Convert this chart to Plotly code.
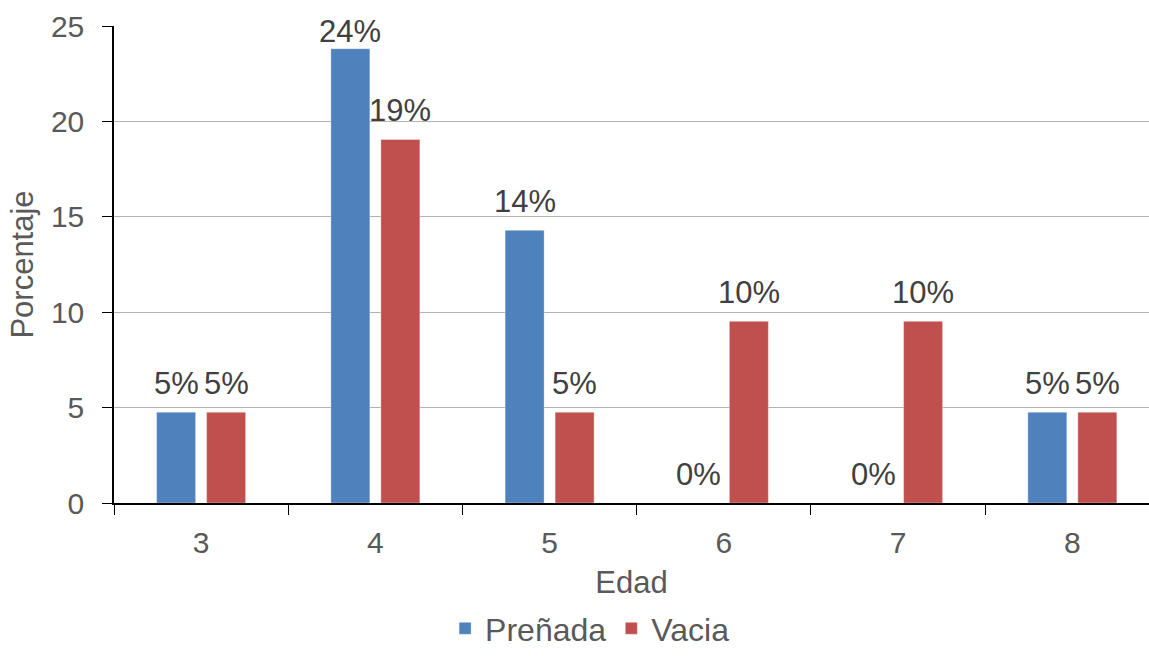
import plotly.graph_objects as go

# Edad (años) y porcentaje de vacas por estado reproductivo
edades = ["3", "4", "5", "6", "7", "8"]
prenada = [4.76, 23.81, 14.29, 0.0, 0.0, 4.76]
vacia = [4.76, 19.05, 4.76, 9.52, 9.52, 4.76]

AZUL = "#4F81BD"
ROJO = "#C0504D"
FONT = "Liberation Sans, Arial, sans-serif"

Y_MAX = 25
PLOT_H = 477  # alto del área de trazado en px
PX_PER_UNIT = PLOT_H / Y_MAX

fig = go.Figure()
fig.add_trace(go.Bar(name="Preñada", x=edades, y=prenada,
                     marker=dict(color=AZUL, line=dict(color="rgba(255,255,255,0.35)", width=1))))
fig.add_trace(go.Bar(name="Vacia", x=edades, y=vacia,
                     marker=dict(color=ROJO, line=dict(color="rgba(255,255,255,0.35)", width=1))))

# Etiquetas de datos sobre cada barra, mantenidas dentro del área de trazado
annotations = []
for serie, shift_x in ((prenada, -25), (vacia, 25)):
    for i, v in enumerate(serie):
        room = (Y_MAX - v) * PX_PER_UNIT
        annotations.append(dict(
            x=i, y=v, xref="x", yref="y",
            text=f"{round(v)}%", showarrow=False,
            xshift=shift_x, yshift=min(29, room - 5),
            yanchor="middle", xanchor="center",
            font=dict(family=FONT, size=31, color="#404040"),
        ))

fig.update_layout(
    width=1149, height=656,
    margin=dict(l=114, r=0, t=26, b=153, autoexpand=False),
    paper_bgcolor="white", plot_bgcolor="white",
    barmode="group", bargap=0.426, bargroupgap=0.22,
    font=dict(family=FONT, size=30, color="#595959"),
    annotations=annotations,
    legend=dict(orientation="h", x=0.46, xanchor="center",
                yref="container", y=-0.008, yanchor="bottom",
                font=dict(family=FONT, size=32, color="#595959")),
    showlegend=True,
)

fig.update_xaxes(
    type="category", range=[-0.5, 5.44], automargin=False,
    showline=True, linecolor="black", linewidth=1.5,
    ticks="outside", tickson="boundaries", ticklen=10, tickcolor="black",
    tickfont=dict(size=30, color="#595959"), ticklabelstandoff=12,
    title=dict(text="Edad", font=dict(size=31, color="#595959"), standoff=14),
    showgrid=False,
)
fig.update_yaxes(
    range=[0, Y_MAX], dtick=5, automargin=False,
    showline=True, linecolor="black", linewidth=1.5,
    ticks="outside", ticklen=10, tickcolor="black",
    tickfont=dict(size=30, color="#595959"), ticklabelstandoff=12,
    showgrid=True, gridcolor="#B3B3B3", gridwidth=1,
    zeroline=False,
    title=dict(text="Porcentaje", font=dict(size=31, color="#595959"), standoff=8),
)

fig.write_html("out.html")
